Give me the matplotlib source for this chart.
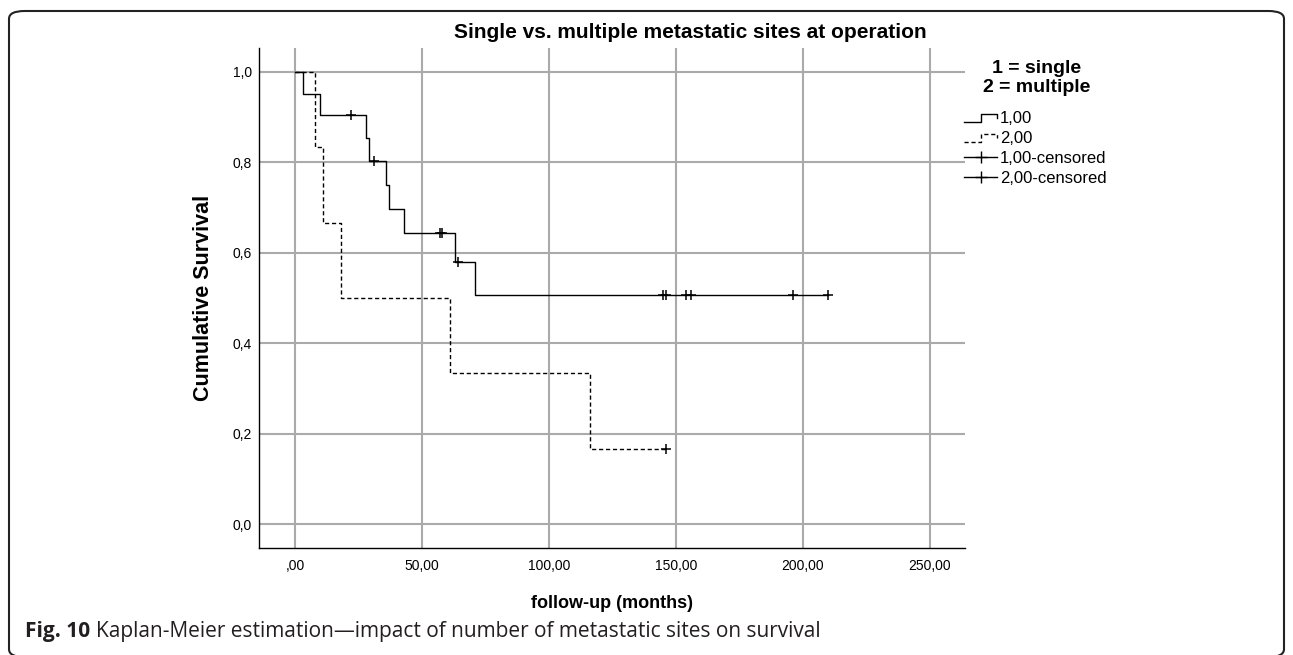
import matplotlib
matplotlib.use("Agg")
import matplotlib.pyplot as plt
from matplotlib.lines import Line2D
from matplotlib.legend_handler import HandlerBase
from matplotlib.patches import FancyBboxPatch

plt.rcParams['font.family'] = ['Liberation Sans', 'DejaVu Sans']
plt.rcParams['lines.scale_dashes'] = False

# Kaplan-Meier steps (months, cumulative survival)
single_t = [0, 3, 10, 28, 29, 36, 37, 43, 63, 71, 210]
single_s = [1.0, 0.952, 0.905, 0.855, 0.804, 0.751, 0.697, 0.643, 0.579, 0.506, 0.506]
single_cens_t = [22, 31, 57, 58, 64, 145, 146, 154, 156, 196, 210]
single_cens_s = [0.905, 0.804, 0.643, 0.643, 0.579, 0.506, 0.506, 0.506, 0.506, 0.506, 0.506]

multi_t = [0, 8, 11, 18, 61, 116, 146]
multi_s = [1.0, 0.833, 0.667, 0.5, 0.333, 0.167, 0.167]
multi_cens_t = [146]
multi_cens_s = [0.167]

xticks = [0, 50, 100, 150, 200, 250]
xtick_labels = [',00', '50,00', '100,00', '150,00', '200,00', '250,00']
yticks = [0.0, 0.2, 0.4, 0.6, 0.8, 1.0]
ytick_labels = ['0,0', '0,2', '0,4', '0,6', '0,8', '1,0']
legend_labels = ['1,00', '2,00', '1,00-censored', '2,00-censored']

W, H = 1293, 655
DASH = (0, (3, 2))


class StepHandler(HandlerBase):
    """legend handle drawn as a little step, like SPSS does"""
    def __init__(self, ls):
        super().__init__()
        self.ls = ls

    def create_artists(self, legend, orig, xd, yd, width, height, fontsize, trans):
        lo = yd + height * 0.05
        hi = yd + height * 0.8
        xs = [-xd, -xd + width * 0.5, -xd + width * 0.5, -xd + width, -xd + width]
        ys = [lo, lo, hi, hi, lo + height * 0.4]
        ln = Line2D(xs, ys, color='black', lw=1.0, linestyle=self.ls, transform=trans)
        return [ln]


fig = plt.figure(figsize=(W / 100, H / 100), dpi=100)
ax = fig.add_axes([259 / W, 1 - 548 / H, (965 - 259) / W, (548 - 48) / H])

ax.step(single_t, single_s, where='post', color='black', lw=1.0)
ax.step(multi_t, multi_s, where='post', color='black', lw=1.0, linestyle=DASH)
ax.plot(single_cens_t, single_cens_s, linestyle='none', marker='+', ms=7, mew=1.1, color='black')
ax.plot(multi_cens_t, multi_cens_s, linestyle='none', marker='+', ms=7, mew=1.1, color='black')

ax.set_xlim(-14.2, 263.8)
ax.set_ylim(-0.053, 1.053)
ax.set_xticks(xticks)
ax.set_xticklabels(xtick_labels)
ax.set_yticks(yticks)
ax.set_yticklabels(ytick_labels)
ax.tick_params(length=0, labelsize=10)
ax.tick_params(axis='x', pad=8)
ax.tick_params(axis='y', pad=5)
ax.grid(True, color='#aaaaaa', lw=1.5)
ax.set_axisbelow(True)
for s in ['top', 'right']:
    ax.spines[s].set_visible(False)
for s in ['left', 'bottom']:
    ax.spines[s].set_linewidth(1.0)

ax.set_xlabel('follow-up (months)', fontsize=13, fontweight='bold')
ax.set_ylabel('Cumulative Survival', fontsize=15.5, fontweight='bold')
ax.xaxis.set_label_coords(0.5, -0.095)
ax.yaxis.set_label_coords(-0.064, 0.5)

fig.text(690 / W, 1 - 33 / H, 'Single vs. multiple metastatic sites at operation',
         ha='center', va='center', fontsize=15, fontweight='bold')

# legend title written by hand so the gap matches
fig.text(1037 / W, 1 - 78 / H, '1 = single\n2 = multiple', ha='center', va='center',
         fontsize=14, fontweight='bold', linespacing=1.15)

h1 = Line2D([], [], color='black')
h2 = Line2D([], [], color='black', linestyle=DASH)
h3 = Line2D([], [], color='black', lw=1.0, marker='+', ms=9, mew=1.0)
h4 = Line2D([], [], color='black', lw=1.0, marker='+', ms=9, mew=1.0)
leg = ax.legend([h1, h2, h3, h4], legend_labels,
                handler_map={h1: StepHandler('-'), h2: StepHandler(DASH)},
                loc='upper left', bbox_to_anchor=(964 / W, 1 - 111 / H),
                bbox_transform=fig.transFigure, frameon=False, fontsize=12,
                handlelength=2.0, handletextpad=0.15, labelspacing=0.3,
                borderpad=0, borderaxespad=0)

# rounded frame around the figure
frame = FancyBboxPatch((9 / W, 1 - 657 / H), (1284 - 9) / W, (657 - 11) / H,
                       boxstyle='round,pad=0,rounding_size=0.012',
                       transform=fig.transFigure, fill=False, ec='#222222', lw=1.5)
fig.patches.append(frame)

# caption: bold "Fig. 10" then the regular text
t1 = fig.text(25 / W, 1 - 632 / H, 'Fig. 10', fontsize=15, fontweight='bold',
              family=['Open Sans', 'DejaVu Sans'], va='center', color='#231f20')
fig.canvas.draw()
bb = t1.get_window_extent()
fig.text((bb.x1 + 6) / W, 1 - 632 / H,
         'Kaplan-Meier estimation\u2014impact of number of metastatic sites on survival',
         fontsize=15, family=['Open Sans', 'DejaVu Sans'], va='center', color='#231f20')

fig.savefig('out.png', dpi=100)
